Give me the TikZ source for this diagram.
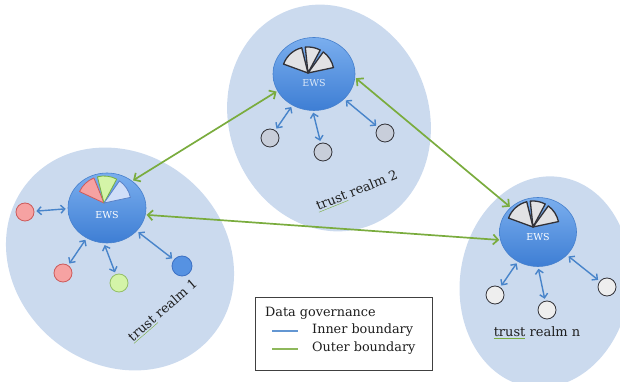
\documentclass[tikz,border=0pt]{standalone}
\usepackage{fontspec}
\setmainfont{DejaVu Serif}
\usetikzlibrary{arrows.meta,calc,shapes.geometric}
\definecolor{realm}{RGB}{203,218,238}
\definecolor{ewstop}{RGB}{122,174,238}
\definecolor{ewsbot}{RGB}{62,126,212}
\definecolor{ewsline}{RGB}{70,128,205}
\definecolor{innerc}{RGB}{72,132,202}
\definecolor{outerc}{RGB}{122,172,62}
\definecolor{labelc}{RGB}{30,30,30}
\definecolor{redf}{RGB}{246,162,162}
\definecolor{redl}{RGB}{205,90,90}
\definecolor{greenf}{RGB}{212,244,168}
\definecolor{greenl}{RGB}{120,175,65}
\definecolor{bluef}{RGB}{208,222,248}
\definecolor{bluel}{RGB}{90,130,200}
\definecolor{devblue}{RGB}{86,146,226}
\definecolor{devbluel}{RGB}{60,112,196}
\definecolor{grayf}{RGB}{226,226,228}
\definecolor{grayl}{RGB}{50,50,56}
\definecolor{dev2f}{RGB}{200,206,218}
\definecolor{devnf}{RGB}{238,238,238}
\newcommand\spellmark[1]{{\color{outerc}\underline{{\color{labelc}#1}}}}
\begin{document}
\begin{tikzpicture}[x=1pt,y=1pt,
  ews/.style={ellipse, minimum width=78pt, minimum height=70pt, inner sep=0pt,
    top color=ewstop, bottom color=ewsbot, draw=ewsline, line width=0.6pt},
  dev/.style={circle, minimum size=18pt, inner sep=0pt, line width=0.8pt},
  innerarrow/.style={draw=innerc, line width=1.4pt,
    {Straight Barb[length=4pt,width=8pt]}-{Straight Barb[length=4pt,width=8pt]},
    shorten <=2pt, shorten >=2pt},
  outerarrow/.style={draw=outerc, line width=1.7pt,
    {Straight Barb[length=5pt,width=10pt]}-{Straight Barb[length=5pt,width=10pt]},
    shorten <=1pt, shorten >=1pt},
  realmlabel/.style={font=\fontsize{13}{15}\selectfont, text=labelc, inner sep=0pt},
  legendtext/.style={font=\fontsize{12.8}{15}\selectfont, text=labelc, inner sep=0pt, anchor=west},
  ewstext/.style={font=\fontsize{9.5}{10}\selectfont, text=white, inner sep=0pt},
  colwedge/.style={line width=0.8pt, line join=round},
  graywedge/.style={fill=grayf, draw=grayl, line width=1.3pt, line join=round},
]
\useasboundingbox (0,0) rectangle (620,382);

% trust realms
\fill[realm, rotate around={-40:(120,123)}] (120,123) ellipse [x radius=120pt, y radius=105pt];
\fill[realm, rotate around={20:(329,264)}] (329,264) ellipse [x radius=100pt, y radius=115pt];
\fill[realm, rotate around={-8:(545,100)}] (545,100) ellipse [x radius=85pt, y radius=106pt];

% EWS nodes
\node[ews] (ews1) at (107,174) {};
\node[ews, minimum width=82pt, minimum height=73pt] (ews2) at (314,308) {};
\node[ews, minimum width=77pt, minimum height=69pt] (ewsn) at (538,150) {};

% wedges realm 1
\coordinate (a1) at ($(ews1)+(-3,5)$);
\filldraw[colwedge, fill=redf, draw=redl] (a1) -- ++(112:27) arc[start angle=112, end angle=155, radius=27] -- cycle;
\filldraw[colwedge, fill=greenf, draw=greenl] (a1) -- ++(62:27) arc[start angle=62, end angle=104, radius=27] -- cycle;
\filldraw[colwedge, fill=bluef, draw=bluel] (a1) -- ++(12:27) arc[start angle=12, end angle=55, radius=27] -- cycle;
% wedges realm 2
\coordinate (a2) at ($(ews2)+(-6,1)$);
\filldraw[graywedge] (a2) -- ++(104:26) arc[start angle=104, end angle=160, radius=26] -- cycle;
\filldraw[graywedge] (a2) -- ++(62:26) arc[start angle=62, end angle=96, radius=26] -- cycle;
\filldraw[graywedge] (a2) -- ++(12:26) arc[start angle=12, end angle=54, radius=26] -- cycle;
% wedges realm n
\coordinate (an) at ($(ewsn)+(-5,5)$);
\filldraw[graywedge] (an) -- ++(104:26) arc[start angle=104, end angle=160, radius=26] -- cycle;
\filldraw[graywedge] (an) -- ++(62:26) arc[start angle=62, end angle=96, radius=26] -- cycle;
\filldraw[graywedge] (an) -- ++(12:26) arc[start angle=12, end angle=54, radius=26] -- cycle;

% EWS labels
\node[ewstext] (t1) at ($(ews1)+(0,-7)$) {EWS};
\node[ewstext, text opacity=0.8] (t2) at ($(ews2)+(0,-9)$) {EWS};
\node[ewstext] (tn) at ($(ewsn)+(0,-5)$) {EWS};

% devices realm 1
\node[dev, fill=redf, draw=redl] (c11) at (25,170) {};
\node[dev, fill=redf, draw=redl] (c12) at (63,109) {};
\node[dev, fill=greenf, draw=greenl!80] (c13) at (119,99) {};
\node[dev, minimum size=20pt, fill=devblue, draw=devbluel] (c14) at (182,116) {};
% devices realm 2
\node[dev, fill=dev2f, draw=grayl] (c21) at (270,244) {};
\node[dev, fill=dev2f, draw=grayl] (c22) at (323,230) {};
\node[dev, fill=dev2f, draw=grayl] (c23) at (385,249) {};
% devices realm n
\node[dev, fill=devnf, draw=grayl] (cn1) at (495,87) {};
\node[dev, fill=devnf, draw=grayl] (cn2) at (547,72) {};
\node[dev, fill=devnf, draw=grayl] (cn3) at (607,95) {};

% inner boundary arrows
\draw[innerarrow] (c11) -- (ews1.181);
\draw[innerarrow] (c12) -- (ews1);
\draw[innerarrow] (c13) -- (ews1.-95);
\draw[innerarrow] (c14) -- (ews1);
\draw[innerarrow] (c21) -- (ews2);
\draw[innerarrow] (c22) -- (ews2.-92);
\draw[innerarrow] (c23) -- (ews2);
\draw[innerarrow] (cn1) -- (ewsn);
\draw[innerarrow] (cn2) -- (ewsn.-90);
\draw[innerarrow] (cn3) -- (ewsn);

% outer boundary arrows
\draw[outerarrow] (ews1.47) -- (ews2.205);
\draw[outerarrow] (ews1.-10) -- (ewsn.-168);
\draw[outerarrow] (ews2.-5) -- (ewsn.138);

% realm labels
\node[realmlabel, rotate=41] (r1) at (163,71) {\spellmark{trust} realm 1};
\node[realmlabel, rotate=22] (r2) at (357,191) {\spellmark{trust} realm 2};
\node[realmlabel] (rn) at (537,49) {\spellmark{trust} realm n};

% legend
\node[draw=black!75, line width=0.7pt, fill=white, minimum width=177pt, minimum height=73pt, inner sep=0pt] (legend) at (343.5,48.5) {};
\node[legendtext] (lg) at (265,69) {Data governance};
\node[legendtext] (li) at (312,52) {Inner boundary};
\node[legendtext] (lo) at (312,34) {Outer boundary};
\draw[line width=2.5pt, color=innerc!85] (272,51) -- (298,51);
\draw[line width=2.5pt, color=outerc!85] (272,33) -- (298,33);
\end{tikzpicture}
\end{document}
